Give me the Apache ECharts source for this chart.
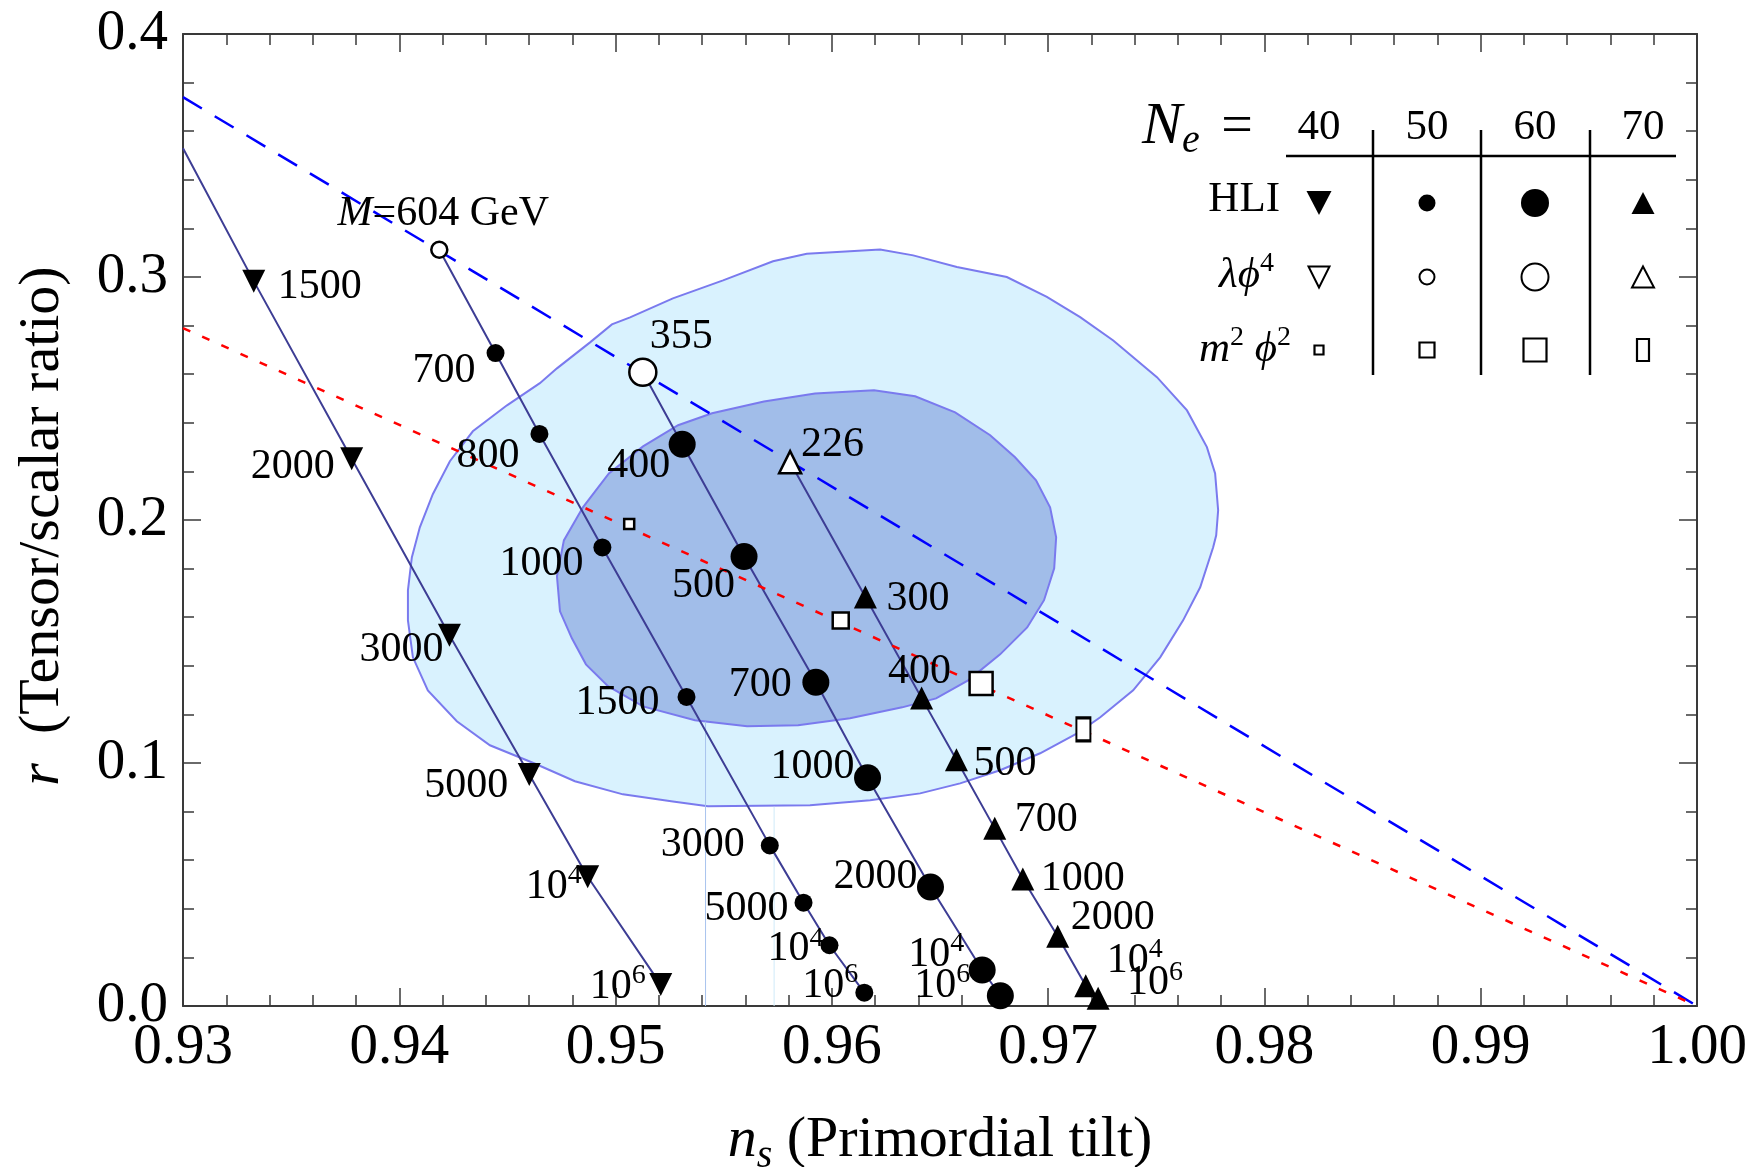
<!DOCTYPE html>
<html>
<head>
<meta charset="utf-8">
<title>r vs n_s</title>
<script src="https://cdn.jsdelivr.net/npm/echarts@6/dist/echarts.min.js"></script>
<style>
html,body{margin:0;padding:0;background:#ffffff;}
#chart{width:1762px;height:1167px;}
</style>
</head>
<body>
<div id="chart"></div>
<script>
// ---------------- tick labels ----------------
const xTickLabels = ['0.93','0.94','0.95','0.96','0.97','0.98','0.99','1.00'];
const yTickLabels = ['0.0','0.1','0.2','0.3','0.4'];

// ---------------- HLI, N_e = 40 ----------------
const hli40Start = [0.93, 0.353];
const hli40Ns = [0.93327, 0.93780, 0.94232, 0.94601, 0.94871, 0.95209];
const hli40R  = [0.2983, 0.2252, 0.1526, 0.0953, 0.0532, 0.0088];
const hli40M  = ['1500', '2000', '3000', '5000', '10^4', '10^6'];

// ---------------- HLI, N_e = 50 ----------------
const hli50Ns = [0.94445, 0.94648, 0.94939, 0.95328, 0.95713, 0.95869, 0.95989, 0.96150];
const hli50R  = [0.2687, 0.2354, 0.1887, 0.1272, 0.0661, 0.0425, 0.0250, 0.0055];
const hli50M  = ['700', '800', '1000', '1500', '3000', '5000', '10^4', '10^6'];

// ---------------- HLI, N_e = 60 ----------------
const hli60Ns = [0.95308, 0.95594, 0.95926, 0.96165, 0.96456, 0.96695, 0.96779];
const hli60R  = [0.2312, 0.1850, 0.1332, 0.0939, 0.0490, 0.0148, 0.0042];
const hli60M  = ['400', '500', '700', '1000', '2000', '10^4', '10^6'];

// ---------------- HLI, N_e = 70 ----------------
const hli70Ns = [0.96155, 0.96415, 0.96576, 0.96753, 0.96883, 0.97044, 0.97174, 0.97231];
const hli70R  = [0.1683, 0.1267, 0.1013, 0.0731, 0.0523, 0.0287, 0.0083, 0.0032];
const hli70M  = ['300', '400', '500', '700', '1000', '2000', '10^4', '10^6'];

// ---------------- lambda phi^4 points (N_e = 50, 60, 70) ----------------
const lamNs = [0.94185, 0.95126, 0.95807];
const lamR  = [0.3112, 0.2608, 0.2238];
const lamM  = ['M=604 GeV', '355', '226'];

// ---------------- m^2 phi^2 points (N_e = 40, 50, 60, 70) ----------------
const m2Ns = [0.95063, 0.96041, 0.96690, 0.97163];
const m2R  = [0.1984, 0.1586, 0.1327, 0.1138];

// ---------------- model lines ----------------
const lamLineNs = [0.93, 1.00];
const lamLineR  = [0.374, 0.0];
const m2LineNs  = [0.93, 1.00];
const m2LineR   = [0.279, 0.0];

// ---------------- confidence contours ----------------
const outerNs = [0.95884,0.96223,0.96376,0.96578,0.96809,0.96994,0.97148,0.97301,0.97503,0.97642,0.97734,0.97772,0.97786,0.97777,0.97763,0.97703,0.97624,0.97518,0.97393,0.97241,0.97134,0.96963,0.96778,0.96593,0.96408,0.96177,0.95899,0.95427,0.95265,0.95034,0.94812,0.94623,0.94419,0.94266,0.94132,0.94063,0.94040,0.94040,0.94058,0.94095,0.94155,0.94234,0.94340,0.94498,0.94650,0.94729,0.94882,0.94983,0.95067,0.95265,0.95497,0.95728];
const outerR  = [0.3096,0.3113,0.3089,0.3041,0.3000,0.2918,0.2835,0.2739,0.2588,0.2451,0.2300,0.2192,0.2040,0.1937,0.1888,0.1723,0.1587,0.1435,0.1299,0.1188,0.1122,0.1040,0.0970,0.0916,0.0875,0.0847,0.0826,0.0822,0.0842,0.0871,0.0925,0.0999,0.1073,0.1172,0.1299,0.1435,0.1587,0.1711,0.1846,0.1970,0.2106,0.2242,0.2365,0.2472,0.2563,0.2624,0.2731,0.2805,0.2834,0.2912,0.2986,0.3065];
const innerNs = [0.96195,0.95922,0.95686,0.95446,0.95289,0.95127,0.94969,0.94849,0.94761,0.94729,0.94743,0.94798,0.94863,0.94965,0.95127,0.95367,0.95608,0.95844,0.96084,0.96325,0.96482,0.96630,0.96778,0.96903,0.96981,0.97028,0.97037,0.97009,0.96944,0.96847,0.96732,0.96570,0.96385];
const innerR  = [0.2534,0.2521,0.2488,0.2439,0.2390,0.2303,0.2192,0.2052,0.1916,0.1768,0.1624,0.1513,0.1406,0.1316,0.1233,0.1176,0.1151,0.1155,0.1184,0.1229,0.1266,0.1340,0.1447,0.1558,0.1670,0.1801,0.1929,0.2052,0.2163,0.2258,0.2349,0.2443,0.2509];

// faint vertical seams in the contour image
const seamNs  = [0.95416, 0.95733];
const seamTop = [0.117, 0.082];

// ---------------- legend table text ----------------
const legendCols = ['40', '50', '60', '70'];

// ================= styling (kept apart from data) =================
const FONT = 'Liberation Serif';
// label placement: [align, dx, dy] from marker centre
const lab40 = [['left',24,6],['right',-17,8],['right',-6,15],['right',-21,12],['right',-6,10],['right',-15,2]];
const lab50 = [['right',-20,18],['right',-20,22],['right',-19,17],['right',-27,6],['right',-25,0],['right',-15,6],['right',-6,4],['right',-6,-7]];
const lab60 = [['right',-12,22],['right',-9,30],['right',-24,3],['right',-13,-11],['right',-13,-10],['right',-18,-15],['right',-30,-10]];
const lab70 = [['left',21,2],['center',-2,-26],['left',17,4],['left',20,-8],['left',18,0],['left',13,-18],['left',21,-25],['left',29,-15]];
const labLam = [['center',4,-36],['left',7,-35],['left',11,-17]];
const lamSym = ['circle','circle','triangle'];
const lamSize = [16, 27, 22];
const m2Size = [[10,10],[16,16],[23,23],[14,23]];
const DOWN = 'path://M0,0L20,0L10,20Z';

const richLab = {
  t:   {fontFamily: FONT, fontSize: 42, lineHeight: 50, color: '#000'},
  i:   {fontFamily: FONT, fontSize: 42, lineHeight: 50, color: '#000', fontStyle: 'italic'},
  sup: {fontFamily: FONT, fontSize: 28, lineHeight: 28, color: '#000', verticalAlign: 'top'}
};
function labText(s) {
  if (s.indexOf('^') > 0) { const p = s.split('^'); return '{t|' + p[0] + '}{sup|' + p[1] + '}'; }
  if (s.indexOf('M=') === 0) return '{i|M}{t|' + s.slice(1) + '}';
  return '{t|' + s + '}';
}
function pairs(a, b) { return a.map((x, i) => [x, b[i]]); }

function markerSeries(nsArr, rArr, texts, place, symbol, size, itemStyle, extra) {
  return {
    type: 'scatter', z: 10, silent: true, symbol: symbol, symbolSize: size,
    itemStyle: Object.assign({opacity: 1}, itemStyle), animation: false,
    emphasis: {disabled: true},
    data: nsArr.map((x, i) => {
      const d = {value: [x, rArr[i]]};
      if (extra) Object.assign(d, extra(i));
      if (texts) {
        d.label = {
          show: true, position: ['50%', '50%'], align: place[i][0], verticalAlign: 'middle',
          color: '#000', opacity: 1,
          offset: [place[i][1], place[i][2]], formatter: labText(texts[i]), rich: richLab
        };
      }
      return d;
    })
  };
}
function lineSeries(points, color, width, type, z) {
  return {type: 'line', data: points, symbol: 'none', showSymbol: false, silent: true, z: z,
    animation: false, lineStyle: {color: color, width: width, type: type, opacity: 1}};
}
function polySeries(nsArr, rArr, fill, z) {
  return {
    type: 'custom', coordinateSystem: 'cartesian2d', z: z, silent: true, animation: false,
    data: [[nsArr[0], rArr[0]]],
    renderItem: function (params, api) {
      return {type: 'polygon',
        shape: {points: nsArr.map((x, i) => api.coord([x, rArr[i]]))},
        style: {fill: fill, stroke: '#7a7aee', lineWidth: 2}};
    }
  };
}

const filled = {color: '#000'};
const open = {color: '#fff', borderColor: '#000', borderWidth: 2.5};
const HLI_COLOR = '#3d3d94';

const series = [
  polySeries(outerNs, outerR, '#d9f2fe', 1),
  polySeries(innerNs, innerR, '#a1bde9', 2),
  lineSeries([[seamNs[0], seamTop[0]], [seamNs[0], 0]], '#a9c4ee', 1, 'solid', 3),
  lineSeries([[seamNs[1], seamTop[1]], [seamNs[1], 0]], '#cfeaf9', 1, 'solid', 3),
  lineSeries([hli40Start].concat(pairs(hli40Ns, hli40R)), HLI_COLOR, 2, 'solid', 4),
  lineSeries([[lamNs[0], lamR[0]]].concat(pairs(hli50Ns, hli50R)), HLI_COLOR, 2, 'solid', 4),
  lineSeries([[lamNs[1], lamR[1]]].concat(pairs(hli60Ns, hli60R)), HLI_COLOR, 2, 'solid', 4),
  lineSeries([[lamNs[2], lamR[2]]].concat(pairs(hli70Ns, hli70R)), HLI_COLOR, 2, 'solid', 4),
  lineSeries(pairs(lamLineNs, lamLineR), '#0000ff', 2.5, [22, 15], 5),
  lineSeries(pairs(m2LineNs, m2LineR), '#ff0000', 2.5, [8, 13], 5),
  markerSeries(hli40Ns, hli40R, hli40M, lab40, DOWN, 23, filled),
  markerSeries(hli50Ns, hli50R, hli50M, lab50, 'circle', 18, filled),
  markerSeries(hli60Ns, hli60R, hli60M, lab60, 'circle', 27, filled),
  markerSeries(hli70Ns, hli70R, hli70M, lab70, 'triangle', 23, filled),
  markerSeries(lamNs, lamR, lamM, labLam, 'circle', 16, open, i => ({symbol: lamSym[i], symbolSize: lamSize[i]})),
  markerSeries(m2Ns, m2R, null, null, 'rect', 10, open, i => ({symbolSize: m2Size[i]}))
];

// ---------------- axes ----------------
const axisLineStyle = {color: '#3a3a3a', width: 2};
const tickStyle = {color: '#3a3a3a', width: 1.5};
function xAx(pos, showLabel) {
  return {
    type: 'value', position: pos, min: 0.93, max: 1.0, interval: 0.01,
    axisLine: {show: true, onZero: false, lineStyle: axisLineStyle},
    axisTick: {show: true, inside: true, length: 18, lineStyle: tickStyle},
    minorTick: {show: true, splitNumber: 5, length: 11, lineStyle: tickStyle},
    splitLine: {show: false}, minorSplitLine: {show: false},
    axisLabel: {show: showLabel, margin: 14, fontSize: 57, fontFamily: FONT, color: '#000',
      showMinLabel: true, showMaxLabel: true,
      formatter: v => xTickLabels[Math.round((v - 0.93) * 100)]}
  };
}
function yAx(pos, showLabel) {
  return {
    type: 'value', position: pos, min: 0, max: 0.4, interval: 0.1,
    axisLine: {show: true, onZero: false, lineStyle: axisLineStyle},
    axisTick: {show: true, inside: true, length: 18, lineStyle: tickStyle},
    minorTick: {show: true, splitNumber: 5, length: 11, lineStyle: tickStyle},
    splitLine: {show: false}, minorSplitLine: {show: false},
    axisLabel: {show: showLabel, margin: 15, fontSize: 57, fontFamily: FONT, color: '#000',
      showMinLabel: true, showMaxLabel: true,
      formatter: v => yTickLabels[Math.round(v * 10)]}
  };
}

// ---------------- graphic: titles + legend table ----------------
function txt(x, y, text, st, extra) {
  const style = Object.assign({text: text, fontFamily: FONT, fontSize: 43, fill: '#000',
    align: 'center', verticalAlign: 'middle', textAlign: 'center', textVerticalAlign: 'middle'}, st || {});
  return Object.assign({type: 'text', x: x, y: y, z: 100, silent: true, style: style}, extra || {});
}
const richTitle = {
  t: {fontFamily: FONT, fontSize: 58, lineHeight: 70, fill: '#000', color: '#000'},
  i: {fontFamily: FONT, fontSize: 58, lineHeight: 70, fill: '#000', color: '#000', fontStyle: 'italic'},
  s: {fontFamily: FONT, fontSize: 40, lineHeight: 40, fill: '#000', color: '#000', fontStyle: 'italic', verticalAlign: 'bottom'}
};
const richLeg = {
  i:   {fontFamily: FONT, fontSize: 43, lineHeight: 52, fill: '#000', color: '#000', fontStyle: 'italic'},
  t:   {fontFamily: FONT, fontSize: 43, lineHeight: 52, fill: '#000', color: '#000'},
  sup: {fontFamily: FONT, fontSize: 28, lineHeight: 28, fill: '#000', color: '#000', verticalAlign: 'top'}
};
const LC = [1319, 1427, 1535, 1643];
const LR = [203, 277, 350];
function triG(cx, cy, w, h, down, isFilled) {
  const pts = down ? [[cx - w / 2, cy - h / 2], [cx + w / 2, cy - h / 2], [cx, cy + h / 2]]
                   : [[cx, cy - h / 2], [cx + w / 2, cy + h / 2], [cx - w / 2, cy + h / 2]];
  return {type: 'polygon', z: 100, silent: true, shape: {points: pts},
    style: isFilled ? {fill: '#000'} : {fill: '#fff', stroke: '#000', lineWidth: 2}};
}
function circG(cx, cy, r, isFilled) {
  return {type: 'circle', z: 100, silent: true, shape: {cx: cx, cy: cy, r: r},
    style: isFilled ? {fill: '#000'} : {fill: '#fff', stroke: '#000', lineWidth: 2}};
}
function rectG(cx, cy, w, h) {
  return {type: 'rect', z: 100, silent: true, shape: {x: cx - w / 2, y: cy - h / 2, width: w, height: h},
    style: {fill: '#fff', stroke: '#000', lineWidth: 2.2}};
}
function lineG(x1, y1, x2, y2, w) {
  return {type: 'line', z: 100, silent: true, shape: {x1: x1, y1: y1, x2: x2, y2: y2},
    style: {stroke: '#000', lineWidth: w}};
}

const graphics = [
  // axis titles
  txt(940, 1141, '{i|n}{s|s}{t| (Primordial tilt)}', {rich: richTitle}),
  txt(43, 526, '{i|r}{t|  (Tensor/scalar ratio)}', {rich: richTitle}, {rotation: Math.PI / 2}),
  // legend header
  txt(1142, 127, 'N', {fontSize: 60, fontStyle: 'italic', align: 'left', textAlign: 'left'}),
  txt(1182, 141, 'e', {fontSize: 40, fontStyle: 'italic', align: 'left', textAlign: 'left'}),
  txt(1237, 128, '=', {fontSize: 56}),
  lineG(1286, 156, 1676, 156, 2.5),
  lineG(1373, 130, 1373, 375, 2.5),
  lineG(1481, 130, 1481, 375, 2.5),
  lineG(1590, 130, 1590, 375, 2.5),
  // row labels
  txt(1280, 200, 'HLI', {align: 'right', textAlign: 'right'}),
  txt(1274, 276, '{i|λϕ}{sup|4}', {rich: richLeg, align: 'right', textAlign: 'right'}),
  txt(1291, 350, '{i|m}{sup|2}{t| }{i|ϕ}{sup|2}', {rich: richLeg, align: 'right', textAlign: 'right'}),
  // HLI row
  triG(LC[0], LR[0], 25, 24, true, true),
  circG(LC[1], LR[0], 8.5, true),
  circG(LC[2], LR[0], 14, true),
  triG(LC[3], LR[0], 23, 22, false, true),
  // lambda phi^4 row
  triG(LC[0], LR[1], 21, 21, true, false),
  circG(LC[1], LR[1], 7.5, false),
  circG(LC[2], LR[1], 13.5, false),
  triG(LC[3], LR[1], 22, 21, false, false),
  // m^2 phi^2 row
  rectG(LC[0], LR[2], 9, 9),
  rectG(LC[1], LR[2], 15, 15),
  rectG(LC[2], LR[2], 23, 23),
  rectG(LC[3], LR[2], 12, 22)
].concat(legendCols.map((c, i) => txt(LC[i], 128, c)));

const chart = echarts.init(document.getElementById('chart'), null, {renderer: 'canvas'});
chart.setOption({
  backgroundColor: '#ffffff',
  animation: false,
  textStyle: {fontFamily: FONT},
  grid: {left: 183, right: 65, top: 34, bottom: 161, containLabel: false, outerBoundsMode: 'none'},
  xAxis: [xAx('bottom', true), xAx('top', false)],
  yAxis: [yAx('left', true), yAx('right', false)],
  tooltip: {show: false},
  legend: {show: false},
  series: series,
  graphic: graphics
});
</script>
</body>
</html>
